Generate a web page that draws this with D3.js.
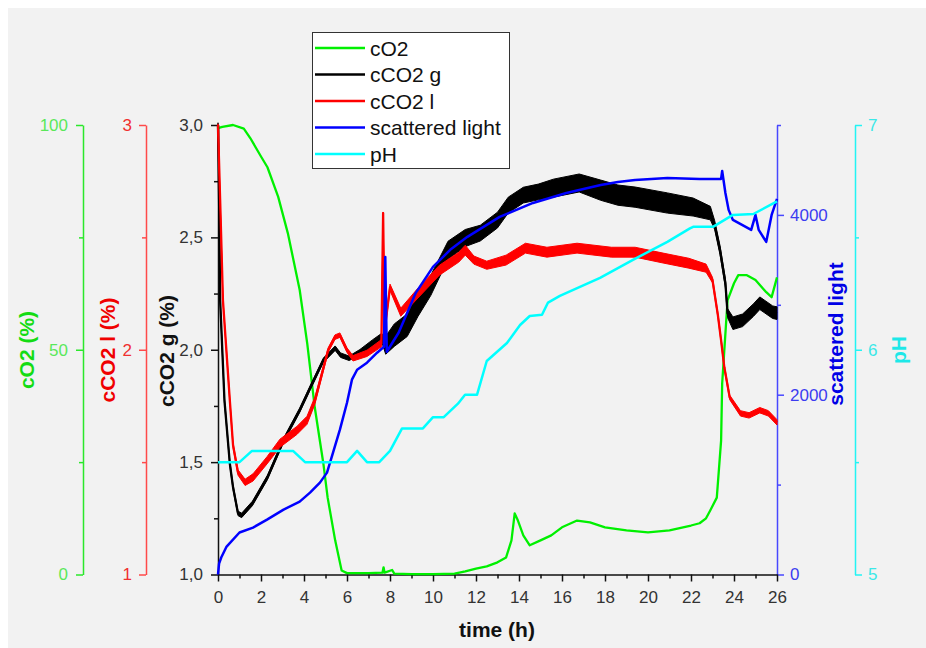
<!DOCTYPE html>
<html lang="en">
<head>
  <meta charset="UTF-8">
  <title>Culture run: cO2, cCO2, scattered light, pH</title>
  <style>
    body {
      margin: 0;
      background: #fff;
    }

    svg text {
      font-family: "Liberation Sans", Arial, sans-serif;
    }
  </style>
  <script src="https://d3js.org/d3.v7.min.js"></script>
</head>
<body>
  <svg id="chart" width="926" height="648"></svg>

  <script>
    // tick values for every axis
    const timeMajor = [0, 2, 4, 6, 8, 10, 12, 14, 16, 18, 20, 22, 24, 26];
    const timeMinor = [1, 3, 5, 7, 9, 11, 13, 15, 17, 19, 21, 23, 25];
    const o2Major = [0, 50, 100], o2Minor = [25, 75];
    const co2lMajor = [1, 2, 3], co2lMinor = [1.5, 2.5];
    const co2gMajor = [1.0, 1.5, 2.0, 2.5, 3.0], co2gMinor = [1.25, 1.75, 2.25, 2.75];
    const lightMajor = [0, 2000, 4000], lightMinor = [1000, 3000, 5000];
    const phMajor = [5, 6, 7], phMinor = [5.5, 6.5];

    const legendNames = ["cO2", "cCO2 g", "cCO2 l", "scattered light", "pH"];

    // [time h, cO2 %]
    const cO2 = [
      [0, 99.3], [0.2, 99.6], [0.7, 100], [1.2, 99.2], [1.5, 97.1], [2.0, 93], [2.3, 90.6],
      [2.8, 84.0], [3.25, 75.9], [3.8, 63.3], [4.15, 51.4], [4.5, 37.2], [4.9, 24.7],
      [5.1, 17.1], [5.45, 7.6], [5.75, 0.9], [6.0, 0.3], [7.0, 0.3], [7.65, 0.4], [7.7, 1.6],
      [7.75, 0.4], [8.1, 1.0], [8.2, 0.2], [9, 0.1], [10, 0.1], [11, 0.2], [11.5, 0.7],
      [12, 1.3], [12.5, 1.8], [13, 2.7], [13.4, 3.8], [13.65, 7.6], [13.8, 13.6], [13.95, 12],
      [14.2, 8.7], [14.5, 6.5], [15, 7.6], [15.5, 8.7], [16, 10.5], [16.7, 12], [17.3, 11.6],
      [18, 10.5], [19, 9.8], [20, 9.35], [21, 9.8], [22, 10.9], [22.4, 11.4], [22.7, 12.5],
      [22.9, 14.3], [23.2, 17.1], [23.4, 29.8], [23.45, 42.5], [23.55, 49.9], [23.7, 61],
      [24, 64.8], [24.2, 66.6], [24.6, 66.6], [25, 65.5], [25.5, 62.8], [25.75, 61.7], [26, 66.1]
    ];

    // [time h, cCO2 g %, noise half-width]
    const cCO2g = [
      [0, 3.0, 0.01], [0.05, 2.67, 0.01], [0.1, 2.22, 0.01], [0.3, 1.775, 0.01], [0.55, 1.494, 0.01],
      [0.7, 1.388, 0.01], [0.93, 1.272, 0.01], [1.1, 1.263, 0.01], [1.6, 1.316, 0.01],
      [2.3, 1.432, 0.01], [3.05, 1.597, 0.01], [3.8, 1.731, 0.01], [4.3, 1.833, 0.01],
      [4.9, 1.953, 0.01], [5.45, 2.007, 0.01], [5.7, 1.976, 0.01], [6.1, 1.962, 0.01],
      [6.6, 1.989, 0.012], [7.2, 2.029, 0.016], [7.6, 2.056, 0.016], [7.8, 2.02, 0.04],
      [8.2, 2.065, 0.05], [8.8, 2.109, 0.05], [9.3, 2.198, 0.05], [9.9, 2.287, 0.045],
      [10.7, 2.443, 0.04], [11.5, 2.497, 0.038], [12.2, 2.519, 0.035], [13, 2.577, 0.035],
      [13.5, 2.644, 0.035], [14.2, 2.688, 0.035], [14.9, 2.702, 0.035], [15.6, 2.719, 0.04],
      [16.8, 2.742, 0.04], [17.8, 2.71, 0.045], [18.6, 2.688, 0.045], [19.4, 2.679, 0.045],
      [20.9, 2.653, 0.045], [22.1, 2.635, 0.04], [22.9, 2.608, 0.03], [23.1, 2.555, 0.02],
      [23.35, 2.443, 0.02], [23.6, 2.296, 0.02], [23.7, 2.163, 0.02], [23.95, 2.118, 0.028],
      [24.4, 2.131, 0.028], [24.9, 2.176, 0.028], [25.2, 2.207, 0.028], [25.8, 2.167, 0.028],
      [26, 2.163, 0.028]
    ];

    // [time h, cCO2 l %, noise half-width]
    const cCO2l = [
      [0, 3.0, 0.005], [0.1, 2.666, 0.005], [0.23, 2.22, 0.005], [0.55, 1.775, 0.008],
      [0.7, 1.575, 0.01], [0.93, 1.454, 0.012], [1.26, 1.41, 0.014], [1.63, 1.432, 0.016],
      [2.28, 1.508, 0.016], [2.88, 1.584, 0.018], [3.67, 1.641, 0.018], [4.14, 1.686, 0.018],
      [4.51, 1.775, 0.016], [4.84, 1.895, 0.012], [5.12, 1.998, 0.01], [5.44, 2.056, 0.01],
      [5.67, 2.065, 0.01], [6.0, 1.998, 0.01], [6.28, 1.962, 0.012], [6.93, 1.984, 0.014],
      [7.6, 2.029, 0.016], [7.68, 2.608, 0.005], [7.75, 2.087, 0.01], [8.0, 2.278, 0.014],
      [8.5, 2.167, 0.018], [9.3, 2.252, 0.022], [10.3, 2.354, 0.022], [11.2, 2.412, 0.022],
      [11.5, 2.443, 0.022], [11.9, 2.399, 0.018], [12.5, 2.376, 0.018], [13.4, 2.399, 0.022],
      [14.3, 2.452, 0.022], [15.3, 2.434, 0.022], [16.7, 2.452, 0.022], [18.3, 2.434, 0.022],
      [19.4, 2.434, 0.022], [20.7, 2.408, 0.022], [21.9, 2.385, 0.022], [22.7, 2.363, 0.018],
      [23.0, 2.31, 0.012], [23.25, 2.154, 0.01], [23.4, 2.042, 0.01], [23.55, 1.922, 0.01],
      [23.8, 1.788, 0.01], [24.3, 1.717, 0.012], [24.7, 1.708, 0.012], [25.2, 1.731, 0.012],
      [25.6, 1.717, 0.012], [26, 1.677, 0.012]
    ];

    // [time h, scattered light]
    const light = [
      [0, 0], [0.05, 120], [0.15, 189], [0.4, 311], [1.0, 467], [1.63, 522], [2.28, 611],
      [3.05, 722], [3.8, 811], [4.28, 911], [4.74, 1022], [5.07, 1133], [5.35, 1356],
      [5.67, 1611], [6.0, 1911], [6.23, 2167], [6.47, 2278], [6.93, 2356], [7.4, 2467],
      [7.72, 2533], [7.78, 3533], [7.85, 2478], [8.4, 2689], [9.2, 3133], [10.0, 3422],
      [10.8, 3611], [11.6, 3756], [13.1, 3978], [14.65, 4133], [16.2, 4244], [17.8, 4333],
      [18.6, 4367], [19.4, 4389], [20.9, 4411], [22.4, 4400], [23.4, 4400], [23.45, 4489],
      [23.6, 4244], [23.75, 4056], [23.95, 3944], [24.8, 3833], [25.0, 4000], [25.15, 3833],
      [25.5, 3700], [25.75, 4000], [26, 4178]
    ];

    // [time h, pH]
    const ph = [
      [0, 5.5], [1.0, 5.5], [1.58, 5.55], [3.49, 5.55], [4.05, 5.5], [6.0, 5.5], [6.47, 5.55],
      [6.93, 5.5], [7.5, 5.5], [8.0, 5.55], [8.56, 5.65], [9.53, 5.65], [10.0, 5.7], [10.5, 5.7],
      [11.16, 5.76], [11.49, 5.8], [12.05, 5.8], [12.5, 5.95], [13.44, 6.03], [14.05, 6.11],
      [14.5, 6.15], [15.07, 6.156], [15.35, 6.21], [15.9, 6.24], [17.77, 6.32], [19.3, 6.4],
      [20.9, 6.48], [21.95, 6.54], [22.1, 6.547], [23.02, 6.547], [23.95, 6.6], [24.9, 6.604],
      [26, 6.66]
    ];

    const svg = d3.select("#chart");

    // grey page, thin white rim
    svg.append("rect")
      .attr("x", 8).attr("y", 8)
      .attr("width", 918).attr("height", 640)
      .attr("fill", "#f2f2f2");

    const plotLeft = 218, plotRight = 777, plotTop = 125, plotBottom = 574.5;

    const x = d3.scaleLinear().domain([0, 26]).range([plotLeft, plotRight]);
    const yO2 = d3.scaleLinear().domain([0, 100]).range([plotBottom, plotTop]);
    const yL = d3.scaleLinear().domain([1, 3]).range([plotBottom, plotTop]);
    const yG = d3.scaleLinear().domain([1, 3]).range([plotBottom, plotTop]);
    const yLight = d3.scaleLinear().domain([0, 5000]).range([plotBottom, plotTop]);
    const yPh = d3.scaleLinear().domain([5, 7]).range([plotBottom, plotTop]);

    const comma = d => d3.format(".1f")(d).replace(".", ",");

    // one axis = minor ticks (with the line) + labelled major ticks
    function addAxis(axisFn, scale, xPos, yPos, major, minor, fmt, stroke, textFill, pad) {
      const g = svg.append("g").attr("transform", `translate(${xPos},${yPos})`);
      g.append("g")
        .call(axisFn(scale).tickValues(minor).tickSize(4).tickSizeOuter(0).tickFormat(""));
      g.append("g")
        .call(axisFn(scale).tickValues(major).tickSize(7).tickSizeOuter(0).tickPadding(pad).tickFormat(fmt))
        .call(a => a.select(".domain").remove());
      g.selectAll("path, line").attr("stroke", stroke).attr("stroke-width", 1.5);
      g.selectAll("text").attr("fill", textFill).attr("font-size", 17);
      return g;
    }

    addAxis(d3.axisLeft, yO2, 83, 0, o2Major, o2Minor, d3.format("d"), "#2be82b", "#5ae85a", 8);
    addAxis(d3.axisLeft, yL, 146, 0, co2lMajor, co2lMinor, d3.format("d"), "#ff4a4a", "#f03030", 7);
    addAxis(d3.axisLeft, yG, plotLeft, 0, co2gMajor, co2gMinor, comma, "#111", "#333", 8);
    addAxis(d3.axisRight, yLight, plotRight, 0, lightMajor, lightMinor, d3.format("d"), "#4848ff", "#3c3cf0", 6);
    addAxis(d3.axisRight, yPh, 855, 0, phMajor, phMinor, d3.format("d"), "#22f4f4", "#3ae8e8", 6);
    addAxis(d3.axisBottom, x, 0, plotBottom, timeMajor, timeMinor, d3.format("d"), "#111", "#333", 9);

    // axis titles
    function title(text, cx, cy, fill, rotate) {
      svg.append("text")
        .attr("transform", `translate(${cx},${cy})` + (rotate ? " rotate(-90)" : ""))
        .attr("text-anchor", "middle")
        .attr("dy", rotate ? "0.36em" : "0")
        .attr("font-size", 21)
        .attr("font-weight", "bold")
        .attr("fill", fill)
        .text(text);
    }
    title("cO2 (%)", 26, 350, "#14dc14", true);
    title("cCO2 l (%)", 107, 350, "#f00000", true);
    title("cCO2 g (%)", 166, 351, "#111", true);
    title("scattered light", 835, 334, "#0000e6", true);
    title("pH", 898, 350, "#1ee8e8", true);
    title("time (h)", 497, 637, "#111", false);

    // curves
    const lineOf = yScale => d3.line().x(d => x(d[0])).y(d => yScale(d[1]));
    const bandOf = yScale => d3.area().x(d => x(d[0]))
      .y0(d => yScale(d[1] - d[2])).y1(d => yScale(d[1] + d[2]));

    const curves = svg.append("g").attr("fill", "none").attr("stroke-linejoin", "round");

    curves.append("path").datum(cO2)
      .attr("d", lineOf(yO2)).attr("stroke", "#00f000").attr("stroke-width", 2.3);

    curves.append("path").datum(cCO2g)
      .attr("d", bandOf(yG)).attr("fill", "#000").attr("stroke", "#000").attr("stroke-width", 1);
    curves.append("path").datum(cCO2g)
      .attr("d", lineOf(yG)).attr("stroke", "#000").attr("stroke-width", 2.3);

    curves.append("path").datum(cCO2l)
      .attr("d", bandOf(yL)).attr("fill", "#ff0000").attr("stroke", "#ff0000").attr("stroke-width", 1);
    curves.append("path").datum(cCO2l)
      .attr("d", lineOf(yL)).attr("stroke", "#ff0000").attr("stroke-width", 2.3);

    curves.append("path").datum(light)
      .attr("d", lineOf(yLight)).attr("stroke", "#0000ff").attr("stroke-width", 2.5);

    curves.append("path").datum(ph)
      .attr("d", lineOf(yPh)).attr("stroke", "#00ffff").attr("stroke-width", 2.5);

    // legend
    const legendColors = ["#00f000", "#000", "#ff0000", "#0000ff", "#00ffff"];
    const legend = svg.append("g");
    legend.append("rect")
      .attr("x", 312.5).attr("y", 32.5).attr("width", 197).attr("height", 136)
      .attr("fill", "#fff").attr("stroke", "#333").attr("stroke-width", 1);

    const rows = legend.selectAll(".row")
      .data(legendNames)
      .enter()
      .append("g")
      .attr("transform", (d, i) => `translate(0,${48 + i * 26.5})`);
    rows.append("line")
      .attr("x1", 315).attr("x2", 365)
      .attr("stroke", (d, i) => legendColors[i]).attr("stroke-width", 2.5);
    rows.append("text")
      .attr("x", 370).attr("y", 7.5)
      .attr("font-size", 21)
      .attr("fill", "#111")
      .text(d => d);
  </script>
</body>
</html>
